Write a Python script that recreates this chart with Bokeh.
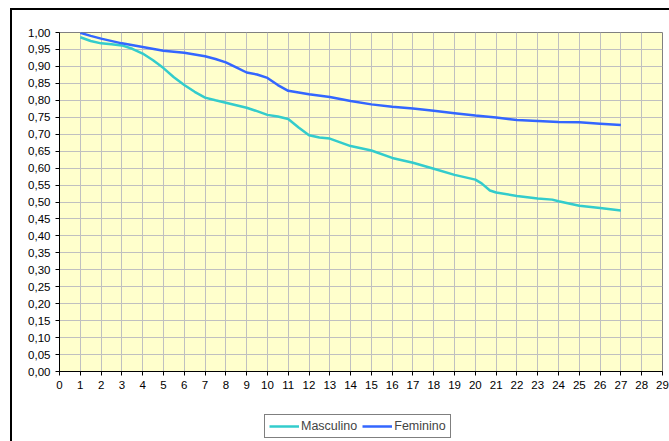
from bokeh.plotting import figure
from bokeh.layouts import column
from bokeh.models import FixedTicker, CustomJSTickFormatter, Legend, LegendItem, Range1d
from bokeh.embed import file_html
from bokeh.resources import INLINE

x_masc = [1, 1.5, 2, 2.5, 3, 3.5, 4, 4.5, 5, 5.5, 6, 6.5, 7, 7.5, 8, 9, 9.5, 10, 10.5, 11,
          11.5, 12, 12.5, 13, 13.5, 14, 15, 16, 17, 18, 19, 20, 20.3, 20.7, 21, 22, 23, 23.7,
          24, 25, 26, 27]
y_masc = [0.986, 0.975, 0.968, 0.965, 0.962, 0.952, 0.938, 0.918, 0.895, 0.868, 0.845, 0.825,
          0.808, 0.800, 0.793, 0.778, 0.768, 0.757, 0.752, 0.745, 0.720, 0.697, 0.690, 0.687,
          0.676, 0.665, 0.652, 0.630, 0.616, 0.598, 0.580, 0.566, 0.555, 0.534, 0.528, 0.518,
          0.510, 0.507, 0.502, 0.489, 0.482, 0.475]

x_fem = [1, 1.5, 2, 3, 4, 5, 6, 7, 7.5, 8, 8.5, 9, 9.5, 10, 10.5, 11, 11.5, 12, 13, 14, 15,
         16, 17, 18, 19, 20, 21, 22, 23, 24, 25, 26, 27]
y_fem = [0.999, 0.990, 0.982, 0.968, 0.957, 0.946, 0.940, 0.930, 0.922, 0.912, 0.897, 0.882,
         0.876, 0.866, 0.845, 0.828, 0.823, 0.818, 0.810, 0.798, 0.788, 0.781, 0.776, 0.769,
         0.762, 0.755, 0.749, 0.742, 0.739, 0.736, 0.735, 0.731, 0.727]

x_ticks = list(range(0, 30))
y_ticks = [round(i * 0.05, 2) for i in range(21)]
series_names = ["Masculino", "Feminino"]
series_colors = ["#33CCCC", "#3366FF"]

FONT = "Liberation Sans"
FRAME_CSS = "2px solid black"

# main chart
p = figure(frame_width=601, frame_height=337, output_backend="svg", toolbar_location=None,
           x_range=Range1d(0, 29), y_range=Range1d(0, 1),
           min_border_left=47, min_border_right=9, min_border_top=22, min_border_bottom=40)
p.margin = (8, 0, 0, 10)
p.styles = {"border-left": FRAME_CSS, "border-top": FRAME_CSS}

p.background_fill_color = "#FFFFCC"
p.border_fill_color = "white"
p.outline_line_color = "#808080"
p.outline_line_width = 1

for ax in (p.xaxis[0], p.yaxis[0]):
    ax.axis_line_color = "black"
    ax.axis_line_width = 1
    ax.major_tick_line_color = "black"
    ax.major_tick_in = 0
    ax.major_tick_out = 4
    ax.minor_tick_line_color = None
    ax.major_label_text_font = FONT
    ax.major_label_text_font_size = "11.5px"
    ax.major_label_text_color = "black"
    ax.major_label_standoff = 5

p.xaxis.ticker = FixedTicker(ticks=x_ticks)
p.yaxis.ticker = FixedTicker(ticks=y_ticks)
p.yaxis.formatter = CustomJSTickFormatter(code="return tick.toFixed(2).replace('.', ',');")

p.xgrid.grid_line_color = "#C0C0C0"
p.ygrid.grid_line_color = "#C0C0C0"
p.xgrid.grid_line_width = 1
p.ygrid.grid_line_width = 1

p.line(x_masc, y_masc, line_color=series_colors[0], line_width=2.5)
p.line(x_fem, y_fem, line_color=series_colors[1], line_width=2.5)

# legend strip below the chart (same series, drawn outside its visible range)
lg = figure(width=657, height=32, output_backend="svg", toolbar_location=None,
            x_range=Range1d(-3, -2), y_range=Range1d(0, 1),
            x_axis_location=None, y_axis_location=None, min_border=0)
lg.margin = (0, 0, 0, 10)
lg.styles = {"border-left": FRAME_CSS}
lg.outline_line_color = None
lg.background_fill_color = "white"
lg.border_fill_color = "white"
lg.xgrid.visible = False
lg.ygrid.visible = False
l1 = lg.line(x_masc, y_masc, line_color=series_colors[0], line_width=2.5)
l2 = lg.line(x_fem, y_fem, line_color=series_colors[1], line_width=2.5)

legend = Legend(items=[LegendItem(label=series_names[0], renderers=[l1]),
                       LegendItem(label=series_names[1], renderers=[l2])],
                orientation="horizontal", location=(205, 3),
                label_text_font=FONT, label_text_font_size="12.5px",
                border_line_color="black", border_line_width=1,
                background_fill_color="white", background_fill_alpha=1,
                glyph_width=30, glyph_height=14, label_standoff=2, spacing=5,
                padding=4, margin=0, label_height=14)
lg.add_layout(legend, "center")

layout = column(p, lg, spacing=0)
open("out.html", "w").write(file_html(layout, INLINE))
